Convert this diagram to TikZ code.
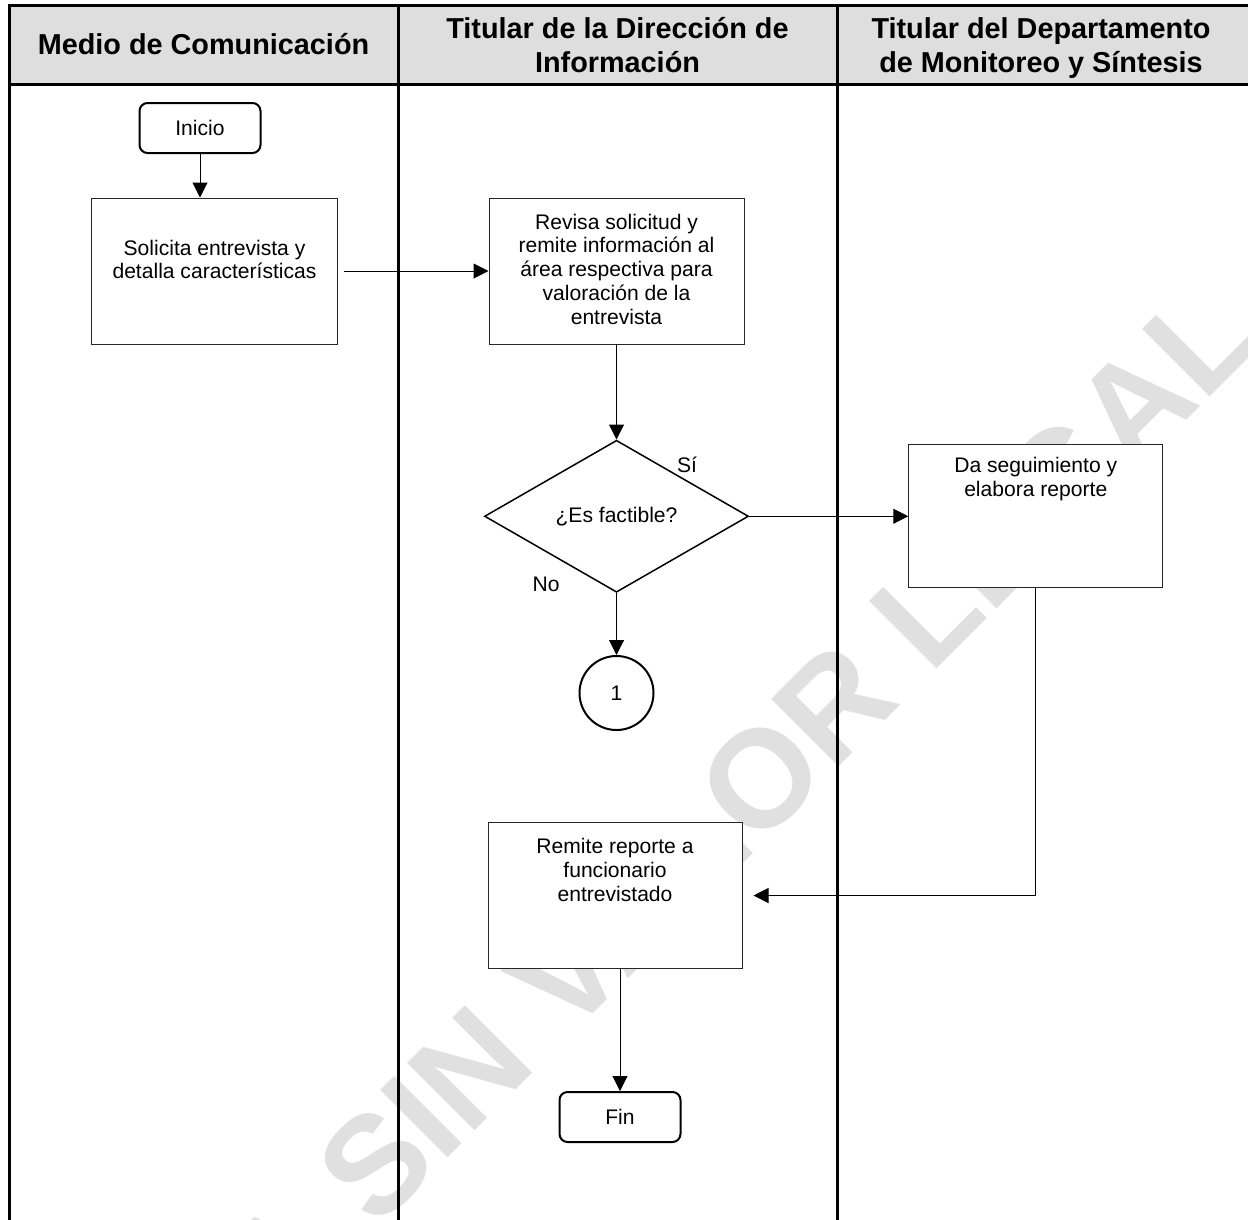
\documentclass[tikz,border=0pt]{standalone}
\usepackage{fontspec}
\setmainfont{Liberation Sans}
\usetikzlibrary{positioning,arrows.meta,shapes.geometric}
\tikzset{
>={Triangle[length=3mm,width=3mm]},
  lane/.style={draw=black, line width=0.6mm},
  lanetitle/.style={
    font=\fontsize{16.4}{19.3}\selectfont\bfseries,
    align=center},
  boxtext/.style={
    anchor=north,
    font=\fontsize{12}{13.5}\selectfont,
    align=center},
  watermark/.style={
    rotate=45,
    text=black!12,
    font=\fontsize{79}{79}\selectfont\bfseries},
}

\begin{document}
\begin{tikzpicture}
[
x=0.2mm, y=-0.2mm,
font=\fontsize{12}{13.5}\selectfont,
squarednode/.style={rectangle, draw=black!85, fill=white, line width=0.2mm, minimum width=50.8mm, minimum height=29.2mm},
roundnode/.style={rectangle, rounded corners=1.6mm, draw=black, fill=white, line width=0.4mm, minimum width=24.2mm, minimum height=10mm},
decisionnode/.style={diamond, aspect=1.74, draw=black, fill=white, line width=0.3mm, minimum width=52.8mm, minimum height=30.4mm},
connectnode/.style={circle, draw=black, fill=white, line width=0.4mm, minimum size=14.8mm},
every path/.append style={line width=0.2mm},
]
\useasboundingbox (0,0) rectangle (1248,1219);

%Background
\node[watermark] (marca) at (617,922) {COPIA SIN VALOR LEGAL};
\fill[black!13] (9,5) rectangle (1260,84);
\draw[lane] (1260,5) -- (9,5) -- (9,1240);
\draw[lane] (9,84) -- (1260,84);
\draw[lane] (398,5) -- (398,1240);
\draw[lane] (837,5) -- (837,1240);

%Lanes
\node[lanetitle]               (lane-A) at (203.5,44) {Medio de Comunicación};
\node[lanetitle, anchor=north] (lane-B) at (617.5,11) {Titular de la Dirección de\\Información};
\node[lanetitle, anchor=north] (lane-C) at (1041,11) {Titular del Departamento\\de Monitoreo y Síntesis};

%Nodes
\node[roundnode]     (inicio)       at (200,128) {Inicio};
\node[squarednode, minimum width=49mm] (solicitud) at (214.5,271)
  [label={[boxtext, yshift=-7.2mm]north:Solicita entrevista y\\detalla características}] {};
\node[squarednode, minimum width=51mm] (revision) [right=30.2mm of solicitud]
  [label={[boxtext, yshift=-2mm]north:Revisa solicitud y\\remite información al\\área respectiva para\\valoración de la\\entrevista}] {};
\node[decisionnode]  (decision)     [below=19mm of revision] {¿Es factible?};
\node                (si)           at (687,465) {Sí};
\node                (no)           at (546,584) {No};
\node[connectnode]   (conector)     [below=12.4mm of decision] {1};
\node[squarednode, minimum height=28.6mm] (seguimiento) [right=31.8mm of decision]
  [label={[boxtext, yshift=-1.4mm]north:Da seguimiento y\\elabora reporte}] {};
\node[squarednode]   (remite)       at (615,895.5)
  [label={[boxtext, yshift=-2mm]north:Remite reporte a\\funcionario\\entrevistado}] {};
\node[roundnode]     (fin)          [below=24.4mm of remite, xshift=1mm] {Fin};

%Lines
\draw[->] (inicio.south) -- (inicio.south |- solicitud.north);
\draw[->, shorten <=1.2mm] (solicitud.east) -- (revision.west);
\draw[->] (revision.south -| decision.north) -- (decision.north);
\draw[->] (decision.south) -- (conector.north);
\draw[->] (decision.east) -- (decision.east -| seguimiento.west);
\draw[->, shorten >=2.2mm] (seguimiento.south) |- (remite.east);
\draw[->] (remite.south -| fin.north) -- (fin.north);

\end{tikzpicture}
\end{document}
